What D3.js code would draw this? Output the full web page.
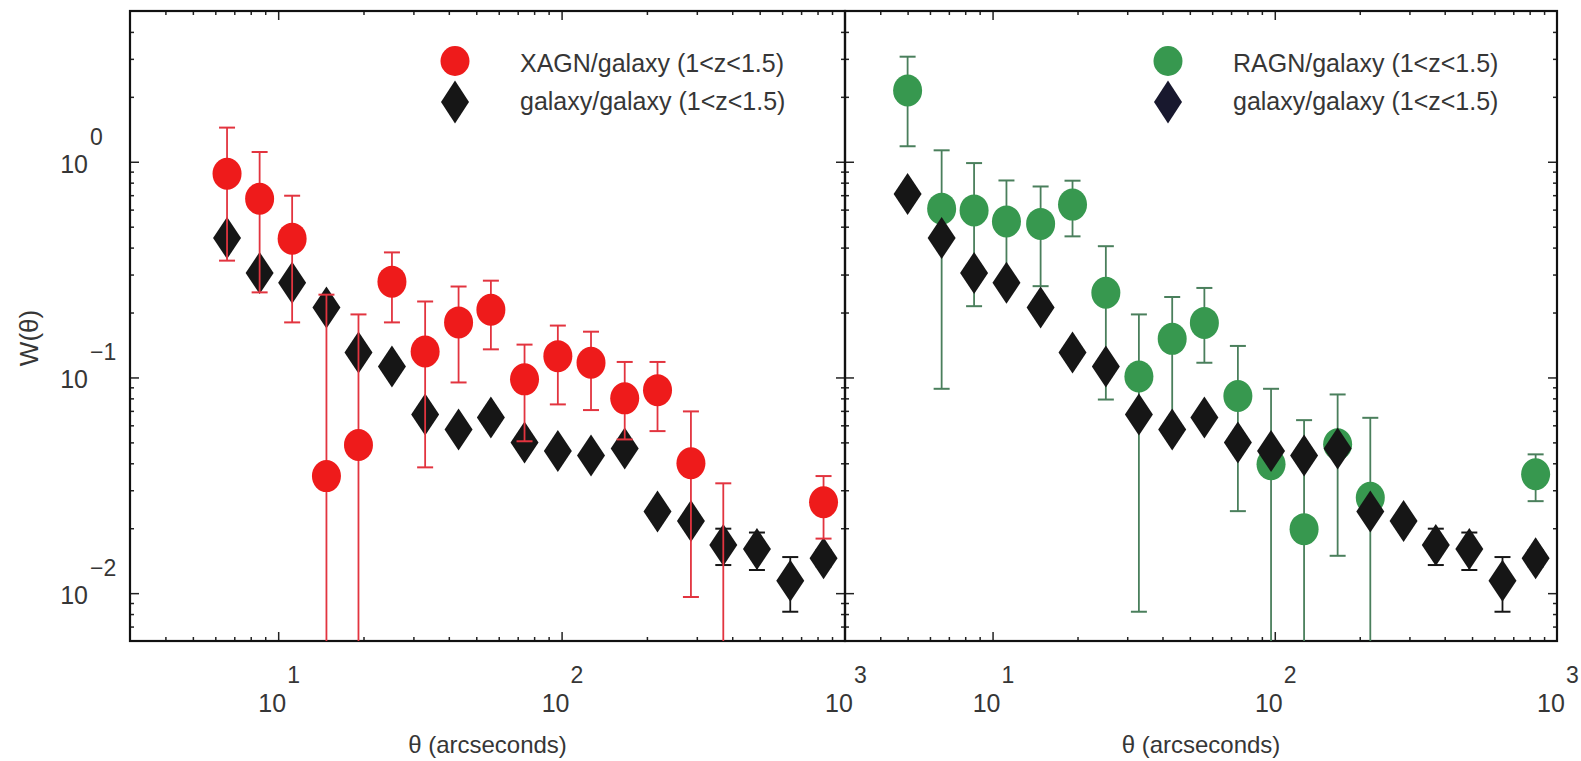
<!DOCTYPE html>
<html>
<head>
<meta charset="utf-8">
<script src="https://cdn.jsdelivr.net/npm/d3@7"></script>
<style>
  html, body { margin: 0; padding: 0; background: #fff; }
  svg { display: block; }
  text { font-family: "Liberation Sans", Arial, Helvetica, sans-serif; fill: #363636; }
</style>
</head>
<body>
<svg id="chart" width="1581" height="761"></svg>
<script>
// ---------------- DATA ----------------
// angular bins (arcseconds)
const thetaLeft  = [6.6, 8.6, 11.2, 14.8, 19.2, 25.2, 33.0, 43.3, 56.3, 74.0, 97.0, 127, 167, 218, 286, 372, 489, 641, 840];
const thetaRight = [5.0, 6.6, 8.6, 11.2, 14.8, 19.2, 25.2, 33.0, 43.3, 56.3, 74.0, 97.0, 127, 167, 218, 286, 372, 489, 641, 840];

// galaxy/galaxy (1<z<1.5), left panel
const galLeftW  = [0.443, 0.305, 0.275, 0.211, 0.1305, 0.1124, 0.0674, 0.0574, 0.0653, 0.050, 0.0456, 0.0435, 0.0469, 0.0239, 0.0216, 0.0167, 0.0160, 0.0114, 0.0145];
const galLeftLo = [0.41, 0.285, 0.26, 0.20, 0.124, 0.107, 0.064, 0.055, 0.062, 0.048, 0.0435, 0.0415, 0.0447, 0.0225, 0.0203, 0.0135, 0.0128, 0.0082, 0.0133];
const galLeftHi = [0.475, 0.325, 0.29, 0.222, 0.137, 0.118, 0.071, 0.060, 0.068, 0.052, 0.048, 0.0455, 0.049, 0.0253, 0.0229, 0.0199, 0.0191, 0.0147, 0.0158];

// XAGN/galaxy (1<z<1.5), left panel (null = no point; tiny values fall below the axis)
const xagnW  = [0.880, 0.674, 0.440, 0.0349, 0.0486, 0.278, 0.132, 0.180, 0.206, 0.098, 0.1255, 0.117, 0.080, 0.0873, 0.040, 0.004, null, null, 0.0264];
const xagnLo = [0.348, 0.248, 0.180, 0.001, 0.001, 0.180, 0.0383, 0.0948, 0.135, 0.0506, 0.075, 0.0706, 0.0516, 0.0564, 0.0096, 0.001, null, null, 0.0179];
const xagnHi = [1.44, 1.11, 0.696, 0.242, 0.196, 0.380, 0.225, 0.264, 0.281, 0.142, 0.174, 0.163, 0.118, 0.118, 0.0696, 0.0323, null, null, 0.0349];

// galaxy/galaxy (1<z<1.5), right panel
const galRightW  = [0.708, 0.443, 0.305, 0.275, 0.211, 0.1305, 0.1124, 0.0674, 0.0574, 0.0653, 0.050, 0.0456, 0.0435, 0.0469, 0.0239, 0.0216, 0.0167, 0.0160, 0.0114, 0.0145];
const galRightLo = [0.67, 0.41, 0.285, 0.26, 0.20, 0.124, 0.107, 0.064, 0.055, 0.062, 0.048, 0.0435, 0.0415, 0.0447, 0.0225, 0.0203, 0.0135, 0.0128, 0.0082, 0.0133];
const galRightHi = [0.75, 0.475, 0.325, 0.29, 0.222, 0.137, 0.118, 0.071, 0.060, 0.068, 0.052, 0.048, 0.0455, 0.049, 0.0253, 0.0229, 0.0199, 0.0191, 0.0147, 0.0158];

// RAGN/galaxy (1<z<1.5), right panel
const ragnW  = [2.14, 0.606, 0.595, 0.529, 0.515, 0.633, 0.247, 0.101, 0.151, 0.179, 0.082, 0.0396, 0.0198, 0.049, 0.0277, null, null, null, null, 0.0356];
const ragnLo = [1.18, 0.0886, 0.214, 0.27, 0.265, 0.451, 0.079, 0.0082, 0.0606, 0.117, 0.024, 0.001, 0.001, 0.0149, 0.001, null, null, null, null, 0.0267];
const ragnHi = [3.07, 1.13, 0.986, 0.819, 0.768, 0.817, 0.406, 0.196, 0.236, 0.26, 0.140, 0.0886, 0.0634, 0.0834, 0.065, null, null, null, null, 0.044];

// axes
const xDomain = [3, 1000];
const yDomain = [0.006, 5];
const xMajor = [10, 100, 1000];
const xMajorExp = ["1", "2", "3"];
const yMajor = [1, 0.1, 0.01];
const yMajorExp = ["0", "\u22121", "\u22122"];
const xMinor = [4, 5, 6, 7, 8, 9, 20, 30, 40, 50, 60, 70, 80, 90, 200, 300, 400, 500, 600, 700, 800, 900];
const yMinor = [0.007, 0.008, 0.009, 0.02, 0.03, 0.04, 0.05, 0.06, 0.07, 0.08, 0.09, 0.2, 0.3, 0.4, 0.5, 0.6, 0.7, 0.8, 0.9, 2, 3, 4];

const legendLeft  = ["XAGN/galaxy (1<z<1.5)", "galaxy/galaxy (1<z<1.5)"];
const legendRight = ["RAGN/galaxy (1<z<1.5)", "galaxy/galaxy (1<z<1.5)"];
const xTitle = "\u03b8 (arcseconds)";
const yTitle = "W(\u03b8)";

// ---------------- STYLE ----------------
const RED = "#ee1b1b", RED_ERR = "#e2343f";
const GREEN = "#37984f", GREEN_ERR = "#4a7f5c";
const BLACK = "#161616", NAVY = "#18182e";

const svg = d3.select("#chart");
const plotTop = 11, plotBottom = 641;
const panels = [
  {x0: 130, x1: 845, id: "L"},
  {x0: 845, x1: 1557, id: "R"}
];
panels.forEach(p => {
  p.x = d3.scaleLog().domain(xDomain).range([p.x0, p.x1]);
  p.y = d3.scaleLog().domain(yDomain).range([plotBottom, plotTop]);
});
const yL = panels[0].y;

function rows(theta, w, lo, hi) {
  return theta.map((t, i) => ({t, w: w[i], lo: lo[i], hi: hi[i]})).filter(d => d.w != null);
}

function drawPanel(p) {
  const g = svg.append("g");
  svg.append("clipPath").attr("id", "clip" + p.id)
    .append("rect").attr("x", p.x0).attr("y", plotTop).attr("width", p.x1 - p.x0).attr("height", plotBottom - plotTop);

  const mk = (axisFn, scale, vals, size, tr) => {
    const a = g.append("g").attr("transform", tr)
      .call(axisFn(scale).tickValues(vals).tickSize(size).tickFormat(""));
    a.select(".domain").remove();
    a.selectAll("line").attr("stroke", "#222").attr("stroke-width", 1.5);
  };
  mk(d3.axisBottom, p.x, xMajor.filter(v => v < 1000), -9, `translate(0,${plotBottom})`);
  mk(d3.axisBottom, p.x, xMinor, -4, `translate(0,${plotBottom})`);
  mk(d3.axisTop, p.x, xMajor.filter(v => v < 1000), -9, `translate(0,${plotTop})`);
  mk(d3.axisTop, p.x, xMinor, -4, `translate(0,${plotTop})`);
  mk(d3.axisLeft, p.y, yMajor, -9, `translate(${p.x0},0)`);
  mk(d3.axisLeft, p.y, yMinor, -4, `translate(${p.x0},0)`);
  mk(d3.axisRight, p.y, yMajor, -9, `translate(${p.x1},0)`);
  mk(d3.axisRight, p.y, yMinor, -4, `translate(${p.x1},0)`);

  g.append("rect").attr("x", p.x0).attr("y", plotTop).attr("width", p.x1 - p.x0).attr("height", plotBottom - plotTop)
    .attr("fill", "none").attr("stroke", "#111").attr("stroke-width", 2.2);

  xMajor.forEach((v, i) => {
    const xx = p.x(v);
    g.append("text").attr("x", xx - 6).attr("y", 712).attr("text-anchor", "middle")
      .attr("font-size", 25).text("10");
    g.append("text").attr("x", xx + 9).attr("y", 683).attr("text-anchor", "start")
      .attr("font-size", 23).text(xMajorExp[i]);
  });
  g.append("text").attr("x", (p.x0 + p.x1) / 2).attr("y", 753).attr("text-anchor", "middle")
    .attr("font-size", 24).text(xTitle);
  return g;
}

function errorBars(g, p, data, color, clipId) {
  const eg = g.append("g").attr("clip-path", `url(#${clipId})`);
  const cap = 8;
  data.forEach(d => {
    const xx = p.x(d.t);
    eg.append("line").attr("x1", xx).attr("x2", xx).attr("y1", p.y(d.lo)).attr("y2", p.y(d.hi))
      .attr("stroke", color).attr("stroke-width", 1.8);
    [d.lo, d.hi].forEach(v => {
      if (v >= yDomain[0]) {
        eg.append("line").attr("x1", xx - cap).attr("x2", xx + cap).attr("y1", p.y(v)).attr("y2", p.y(v))
          .attr("stroke", color).attr("stroke-width", 2);
      }
    });
  });
}
function circles(g, p, data, color, clipId) {
  g.append("g").attr("clip-path", `url(#${clipId})`).selectAll("ellipse").data(data).join("ellipse")
    .attr("cx", d => p.x(d.t)).attr("cy", d => p.y(d.w)).attr("rx", 14.5).attr("ry", 16)
    .attr("fill", color);
}
const diamondPath = (cx, cy, hw, hh) => `M${cx},${cy - hh}L${cx + hw},${cy}L${cx},${cy + hh}L${cx - hw},${cy}Z`;
function diamonds(g, p, data, color, clipId) {
  g.append("g").attr("clip-path", `url(#${clipId})`).selectAll("path").data(data).join("path")
    .attr("d", d => diamondPath(p.x(d.t), p.y(d.w), 14, 21))
    .attr("fill", color);
}

// ---------- left panel ----------
const gL = drawPanel(panels[0]);
const galL = rows(thetaLeft, galLeftW, galLeftLo, galLeftHi);
const xagn = rows(thetaLeft, xagnW, xagnLo, xagnHi);
errorBars(gL, panels[0], galL, BLACK, "clipL");
diamonds(gL, panels[0], galL, BLACK, "clipL");
errorBars(gL, panels[0], xagn, RED_ERR, "clipL");
circles(gL, panels[0], xagn, RED, "clipL");

// ---------- right panel ----------
const gR = drawPanel(panels[1]);
const galR = rows(thetaRight, galRightW, galRightLo, galRightHi);
const ragn = rows(thetaRight, ragnW, ragnLo, ragnHi);
errorBars(gR, panels[1], ragn, GREEN_ERR, "clipR");
circles(gR, panels[1], ragn, GREEN, "clipR");
errorBars(gR, panels[1], galR, BLACK, "clipR");
diamonds(gR, panels[1], galR, BLACK, "clipR");

// y tick labels (left panel only)
yMajor.forEach((v, i) => {
  const yy = yL(v);
  svg.append("text").attr("x", 88).attr("y", yy + 11).attr("text-anchor", "end")
    .attr("font-size", 25).text("10");
  svg.append("text").attr("x", 90).attr("y", yy - 17).attr("text-anchor", "start")
    .attr("font-size", 23).text(yMajorExp[i]);
});
svg.append("text").attr("transform", "translate(38,338) rotate(-90)").attr("text-anchor", "middle")
  .attr("font-size", 26).text(yTitle);

function legend(p, labels, c1, c2) {
  const lx = p.x0 + (p.id === "L" ? 325 : 323);
  const g = svg.append("g");
  g.append("ellipse").attr("cx", lx).attr("cy", 61).attr("rx", 14.5).attr("ry", 15).attr("fill", c1);
  g.append("path").attr("d", diamondPath(lx, 102, 14, 21.5)).attr("fill", c2);
  g.append("text").attr("x", lx + 65).attr("y", 72).attr("font-size", 25).text(labels[0]);
  g.append("text").attr("x", lx + 65).attr("y", 110).attr("font-size", 25).text(labels[1]);
}
legend(panels[0], legendLeft, RED, BLACK);
legend(panels[1], legendRight, GREEN, NAVY);
</script>
</body>
</html>
